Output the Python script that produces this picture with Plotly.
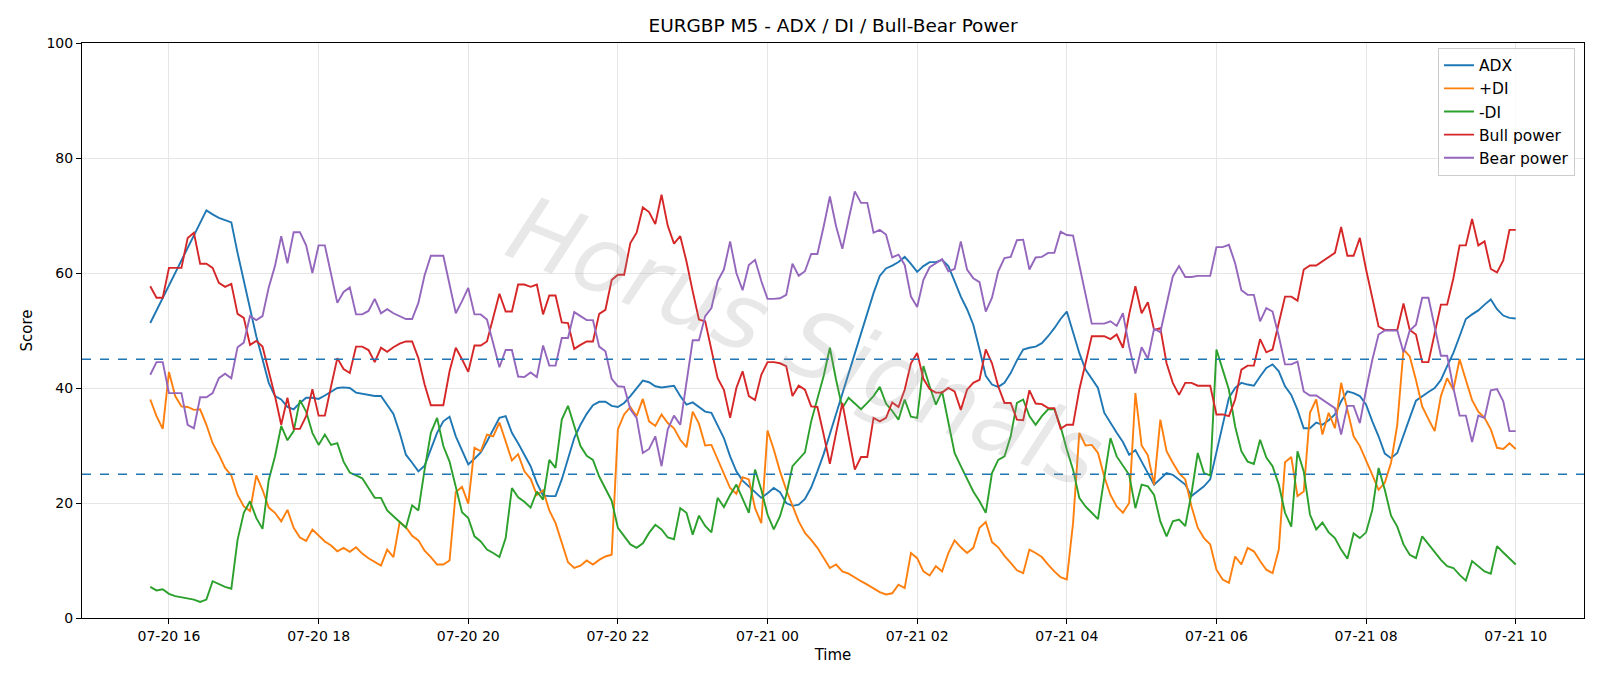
import pandas as pd
import plotly.graph_objects as go

start_time = "2024-07-20 15:45"
n_points = 220

adx = [51.3,53.5,55.7,57.8,60.0,62.2,64.4,66.5,68.7,70.9,70.2,69.6,69.2,68.8,63.5,58.5,53.6,49.0,45.0,40.9,
       38.6,38.0,36.7,36.3,37.4,38.3,38.3,38.1,38.7,39.3,40.0,40.1,40.0,39.2,39.0,38.7,38.6,38.6,37.0,35.5,
       32.2,28.4,27.0,25.5,26.5,29.3,32.2,34.2,35.0,31.6,29.0,26.7,27.7,28.8,30.7,32.8,34.8,35.1,32.2,30.4,
       28.4,26.4,23.5,21.3,21.2,21.2,24.1,27.8,31.3,33.6,35.5,37.0,37.6,37.6,36.9,36.7,37.4,38.6,40.0,41.3,
       41.0,40.3,40.1,40.3,40.4,38.6,37.1,37.5,36.7,35.9,35.7,33.4,31.3,28.1,25.5,23.9,22.9,22.0,20.9,21.7,
       22.6,21.9,20.0,19.5,19.7,20.7,22.7,25.5,28.5,32.0,35.5,39.0,42.5,46.0,49.5,53.0,56.5,59.5,60.8,61.3,
       61.9,62.8,61.6,60.2,61.2,61.9,61.9,62.3,61.2,58.6,55.9,53.7,51.0,46.7,42.1,40.6,40.2,40.9,42.6,44.8,
       46.7,47.0,47.2,47.8,49.0,50.4,52.0,53.3,49.6,46.1,43.2,41.7,40.0,35.7,33.9,32.2,30.6,28.4,29.2,27.3,
       25.2,23.2,24.2,25.2,24.9,24.1,23.2,21.2,22.0,22.9,24.1,29.0,33.9,38.3,40.0,40.9,40.6,40.4,42.0,43.5,
       44.1,42.9,40.3,38.8,36.2,33.0,33.0,34.0,33.6,34.4,35.4,37.7,39.4,39.1,38.6,37.1,34.2,31.6,28.6,27.8,
       28.7,31.9,34.8,37.8,38.6,39.3,40.0,41.4,43.8,46.1,49.0,52.0,52.8,53.5,54.5,55.4,53.7,52.6,52.2,52.1]

plus_di = [38.0,35.1,32.9,42.8,38.6,36.8,36.7,36.2,36.3,33.6,30.4,28.4,26.1,24.8,21.4,19.4,18.6,24.8,22.3,19.2,
           18.3,16.8,18.8,15.7,14.0,13.4,15.4,14.3,13.3,12.6,11.6,12.2,11.5,12.3,11.2,10.4,9.8,9.1,11.9,10.6,
           16.7,15.8,14.3,13.5,11.7,10.6,9.3,9.3,10.0,21.9,22.8,19.9,29.6,29.0,31.9,31.6,34.0,30.6,27.4,28.5,
           25.5,24.2,21.4,22.2,18.7,16.5,13.0,9.7,8.7,9.1,10.0,9.3,10.1,10.7,11.0,32.8,35.4,36.7,35.1,38.1,
           34.2,33.4,35.4,33.9,33.0,31.0,29.7,35.9,33.8,30.0,30.1,27.7,25.2,22.6,21.6,24.5,24.1,19.1,16.5,32.6,
           29.3,25.5,22.3,19.4,16.8,14.8,13.6,12.2,10.4,8.7,9.3,8.1,7.7,7.0,6.4,5.8,5.2,4.5,4.1,4.3,
           5.8,5.2,11.3,10.4,8.1,7.4,9.0,8.1,11.3,13.5,12.3,11.3,12.2,15.7,16.7,13.2,12.3,10.8,9.6,8.3,
           7.8,11.9,11.3,10.6,9.3,8.1,7.1,6.7,16.5,32.2,30.0,30.1,28.7,24.6,21.4,19.4,18.3,20.0,39.1,30.0,
           28.3,23.2,34.5,29.0,27.0,25.2,24.1,19.4,15.7,13.9,12.8,8.4,6.7,6.1,10.7,9.3,12.2,11.6,9.9,8.4,
           7.8,11.9,27.1,28.0,21.2,22.0,35.7,38.0,31.9,35.7,33.0,40.9,36.2,31.6,29.9,27.5,24.9,22.3,23.5,27.0,
           33.6,46.7,45.5,41.4,36.8,34.6,32.5,38.6,41.7,39.7,45.0,41.4,37.9,35.9,34.8,32.8,29.6,29.4,30.4,29.4]

minus_di = [5.4,4.8,5.0,4.2,3.8,3.6,3.4,3.2,2.8,3.2,6.4,5.9,5.4,5.1,13.6,18.3,20.3,17.4,15.5,24.0,
            28.1,33.4,30.9,32.5,37.9,35.9,32.2,30.1,31.9,30.1,30.4,27.2,25.3,24.8,24.3,22.6,20.9,20.9,18.7,17.7,
            16.7,15.7,19.6,18.7,25.8,32.2,34.8,29.9,27.2,22.6,18.4,17.4,14.2,13.3,11.9,11.3,10.6,13.9,22.6,21.0,
            20.2,19.2,22.0,20.6,27.5,26.1,34.5,36.9,33.6,29.9,28.2,27.5,24.6,22.6,20.4,15.7,14.2,12.8,12.2,13.0,
            14.8,16.2,15.4,14.0,13.7,19.1,18.3,14.5,17.8,16.0,14.9,20.9,19.3,21.4,23.2,20.9,18.3,25.8,22.3,18.0,
            15.4,17.7,21.4,26.4,27.7,28.8,34.2,38.0,42.1,47.0,41.4,36.5,38.3,37.3,36.3,37.4,38.6,40.2,37.3,36.0,
            34.5,38.0,35.0,34.8,43.8,40.3,37.1,39.4,33.9,28.7,26.4,24.1,22.0,20.3,18.3,25.2,27.5,28.1,31.6,37.4,
            38.0,35.1,33.6,35.1,36.3,36.3,33.3,29.3,25.8,20.9,19.4,18.3,17.2,24.3,31.3,28.1,26.4,24.9,19.1,23.2,
            22.9,21.4,16.8,14.2,16.8,17.1,16.0,21.7,28.7,25.2,24.8,46.7,43.2,39.7,33.3,29.0,27.2,26.8,31.0,27.9,
            26.4,23.2,18.3,15.9,29.0,25.5,18.0,15.4,16.6,14.9,13.9,11.9,10.3,14.7,13.9,14.9,18.8,26.1,22.3,17.8,
            15.9,12.8,11.0,10.4,14.2,12.8,11.4,10.1,9.0,8.7,7.5,6.5,9.9,9.0,8.1,7.7,12.5,11.4,10.4,9.3]

bull_power = [57.7,55.7,55.7,60.9,60.9,60.9,66.1,67.0,61.6,61.6,60.9,58.3,57.6,58.1,52.9,52.2,47.5,48.2,47.2,43.0,
              38.6,33.6,38.3,32.9,32.9,35.1,39.8,35.2,35.2,40.3,45.2,43.3,42.6,47.2,47.2,46.6,44.5,47.0,46.3,47.1,
              47.7,48.1,48.1,45.2,40.6,37.0,37.0,37.0,42.9,47.0,45.0,42.8,47.4,47.4,48.1,52.2,56.4,53.3,53.3,58.0,
              58.0,57.6,58.0,52.8,56.1,56.1,51.4,51.3,46.8,47.5,48.1,48.1,52.9,53.6,58.8,59.7,59.7,65.2,67.0,71.4,
              70.6,68.5,73.6,68.2,65.1,66.4,62.0,56.8,51.9,51.6,46.4,41.7,39.7,34.8,40.0,42.9,38.6,37.9,42.3,44.5,
              44.5,44.3,43.8,38.6,40.4,39.7,36.8,36.7,31.9,26.8,32.2,37.4,31.6,25.8,28.0,28.0,34.8,34.2,34.8,37.5,
              36.7,39.7,44.3,46.1,41.6,39.8,39.2,39.2,40.0,39.4,36.2,39.7,40.9,41.4,46.7,44.3,40.3,37.4,37.4,34.5,
              34.4,39.6,37.3,37.2,36.5,36.5,32.9,33.6,33.6,39.7,44.3,49.0,49.0,49.0,48.5,49.3,47.0,52.8,57.7,53.0,
              54.9,50.1,50.4,44.3,40.9,38.8,40.9,40.9,40.4,40.4,40.4,35.4,35.4,35.1,38.0,43.2,43.9,43.9,48.5,46.2,
              46.7,51.3,55.9,55.9,55.2,60.6,61.3,61.3,62.0,62.8,63.5,68.0,63.0,63.0,66.1,60.6,55.7,50.7,50.1,50.1,
              50.1,54.7,50.1,49.3,44.5,44.5,49.7,54.5,54.5,59.1,64.8,64.8,69.4,64.8,65.5,60.7,60.1,62.2,67.5,67.5]

bear_power = [42.3,44.5,44.5,39.1,39.1,39.1,33.6,33.0,38.4,38.4,39.1,41.7,42.5,41.7,47.1,47.9,52.5,51.8,52.5,57.5,
              61.2,66.4,61.7,67.1,67.1,64.8,60.0,64.8,64.8,59.7,54.8,56.7,57.5,52.8,52.8,53.4,55.5,53.0,53.7,53.0,
              52.5,52.0,52.0,54.8,59.6,63.0,63.0,63.0,58.0,53.0,55.1,57.4,52.8,52.8,51.9,47.8,43.6,46.6,46.6,42.0,
              41.9,42.7,41.9,47.4,43.9,43.9,48.7,48.7,53.2,52.5,51.8,51.8,47.2,46.4,41.6,40.3,40.2,36.3,34.8,28.7,
              29.4,31.6,26.4,32.8,35.2,33.6,41.4,48.3,48.3,52.5,53.9,58.6,60.6,65.5,60.0,57.0,61.4,62.3,58.6,55.5,
              55.5,55.6,56.2,61.6,59.5,60.3,63.3,63.3,68.1,73.3,68.1,64.2,69.3,74.2,72.2,72.2,67.0,67.5,66.7,62.7,
              63.2,61.4,55.9,54.1,58.8,61.0,61.7,62.4,60.3,60.7,65.5,60.6,59.1,58.4,53.3,55.7,60.3,62.6,62.8,65.7,
              65.8,60.6,62.7,62.8,63.5,63.5,67.2,66.6,66.5,61.2,55.9,51.2,51.2,51.2,51.6,50.8,53.0,47.2,42.5,47.1,
              45.1,50.3,49.7,54.5,59.4,61.2,59.3,59.3,59.5,59.5,59.5,64.5,64.5,64.9,61.7,57.0,56.2,56.2,51.6,53.9,
              53.3,49.0,44.1,44.1,44.6,39.4,38.7,38.7,38.0,37.3,36.5,31.9,36.9,36.9,33.9,39.7,44.9,49.3,50.0,50.0,
              50.0,46.2,50.0,51.0,55.7,55.7,50.4,45.6,45.6,40.0,35.2,35.2,30.6,35.2,34.8,39.6,39.8,37.7,32.5,32.5]

upper_level = 45
lower_level = 25

times = pd.date_range(start_time, periods=n_points, freq="5min")

series = [
    ("ADX", adx, "#1f77b4"),
    ("+DI", plus_di, "#ff7f0e"),
    ("-DI", minus_di, "#2ca02c"),
    ("Bull power", bull_power, "#d62728"),
    ("Bear power", bear_power, "#9467bd"),
]

fig = go.Figure()
for name, vals, color in series:
    fig.add_trace(go.Scatter(x=times, y=vals, mode="lines", name=name,
                             line=dict(color=color, width=1.9)))

for lvl in (upper_level, lower_level):
    fig.add_hline(y=lvl, line=dict(color="#1f77b4", width=1.3, dash="dash"))

span = times[-1] - times[0]
pad = span * 0.05
x_range = [times[0] - pad, times[-1] + pad]

font_family = "DejaVu Sans"
fig.update_layout(
    width=1600, height=686,
    paper_bgcolor="white", plot_bgcolor="white",
    margin=dict(l=82, r=16, t=43, b=68),
    title=dict(text="EURGBP M5 - ADX / DI / Bull-Bear Power", x=0.5, xanchor="center", xref="paper",
               y=1 - 26 / 686, yanchor="middle",
               font=dict(family=font_family, size=18.5, color="black")),
    font=dict(family=font_family, size=14, color="black"),
    showlegend=True,
    legend=dict(x=0.994, y=0.992, xanchor="right", yanchor="top",
                bgcolor="rgba(255,255,255,0.8)", bordercolor="#cccccc", borderwidth=1,
                font=dict(family=font_family, size=15.5, color="black"),
                tracegroupgap=0, itemwidth=30),
    annotations=[dict(text="<i>Horus Signals</i>", x=0.482, y=0.48, xref="paper", yref="paper",
                      showarrow=False, textangle=22,
                      font=dict(family="DejaVu Sans", size=92, color="rgba(150,150,150,0.22)"))],
)

fig.update_xaxes(
    range=x_range, type="date",
    tick0="2024-07-20 16:00", dtick=2 * 3600 * 1000, tickformat="%m-%d %H",
    showgrid=True, gridcolor="#e6e6e6", gridwidth=1,
    showline=True, linecolor="black", linewidth=1, mirror=True,
    ticks="outside", ticklen=5, tickcolor="black",
    tickfont=dict(size=14),
    title=dict(text="Time", font=dict(size=15), standoff=6),
    zeroline=False,
)
fig.update_yaxes(
    range=[0, 100], tick0=0, dtick=20,
    showgrid=True, gridcolor="#e6e6e6", gridwidth=1,
    showline=True, linecolor="black", linewidth=1, mirror=True,
    ticks="outside", ticklen=5, tickcolor="black",
    tickfont=dict(size=14),
    title=dict(text="Score", font=dict(size=15), standoff=10),
    zeroline=False,
)

fig.write_html("out.html")
